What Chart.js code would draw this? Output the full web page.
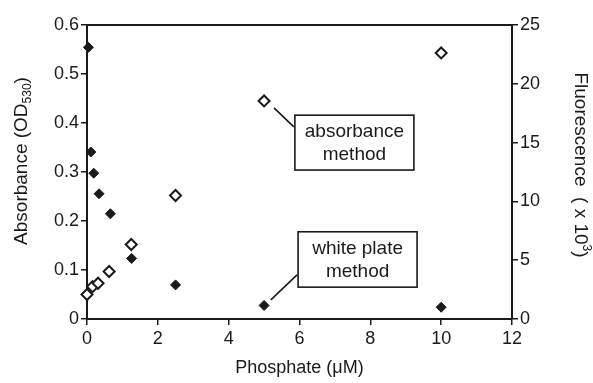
<!DOCTYPE html>
<html>
<head>
<meta charset="utf-8">
<script src="https://cdn.jsdelivr.net/npm/chart.js@4.4.1/dist/chart.umd.min.js"></script>
<style>
  html, body { margin: 0; padding: 0; background: #fff; }
  canvas { display: block; }
</style>
</head>
<body>
<canvas id="chart" width="593" height="383"></canvas>
<script>
// Absorbance method (open diamonds, left axis)
const absPhosphate = [0, 0.156, 0.3125, 0.625, 1.25, 2.5, 5, 10];
const absOD = [0.050, 0.066, 0.073, 0.097, 0.152, 0.252, 0.445, 0.543];

// White plate method (filled diamonds, right axis, x 10^3)
const whitePhosphate = [0.04, 0.11, 0.19, 0.34, 0.66, 1.26, 2.5, 5, 10];
const whiteFluor = [23.1, 14.2, 12.4, 10.65, 8.95, 5.15, 2.9, 1.15, 1.0];

// Axis ranges
const xRange = [0, 12, 2];
const yRange = [0, 0.6, 0.1];
const y2Range = [0, 25, 5];

const FONT = '"Liberation Sans", Arial, sans-serif';
const INK = '#1a1a1a';

// callout boxes, in data units (x, left axis)
const callouts = [
    { lines: ['absorbance', 'method'], box: [5.87, 0.416, 9.23, 0.304], from: [5.28, 0.431], to: [5.84, 0.392] },
    { lines: ['white plate', 'method'], box: [5.96, 0.178, 9.32, 0.065], from: [5.19, 0.039], to: [5.93, 0.090] },
];

const toPts = (xs, ys) => xs.map((x, i) => ({ x: x, y: ys[i] }));

// draws text with a small sub/superscript part, centred at 0,0
function scriptText(ctx, parts, size, small, shift) {
    const w = parts.map((p, i) => {
        ctx.font = (i === 1 ? small : size) + 'px ' + FONT;
        return ctx.measureText(p).width;
    });
    let x = -(w[0] + w[1] + w[2]) / 2;
    parts.forEach((p, i) => {
        ctx.font = (i === 1 ? small : size) + 'px ' + FONT;
        ctx.fillText(p, x, i === 1 ? shift : 0);
        x += w[i];
    });
}

// frame top line, axis titles and callouts
const extras = {
    id: 'extras',
    afterDatasetsDraw(chart) {
        const ctx = chart.ctx;
        const a = chart.chartArea;
        const sx = chart.scales.x, sy = chart.scales.y;
        ctx.save();
        ctx.strokeStyle = INK;
        ctx.lineWidth = 2;
        ctx.beginPath();
        ctx.moveTo(a.left, a.top);
        ctx.lineTo(a.right, a.top);
        ctx.stroke();

        // callouts
        ctx.lineWidth = 1.6;
        ctx.font = '19px ' + FONT;
        ctx.fillStyle = INK;
        ctx.textAlign = 'center';
        ctx.textBaseline = 'middle';
        callouts.forEach(c => {
            const x1 = sx.getPixelForValue(c.box[0]), y1 = sy.getPixelForValue(c.box[1]);
            const x2 = sx.getPixelForValue(c.box[2]), y2 = sy.getPixelForValue(c.box[3]);
            ctx.beginPath();
            ctx.moveTo(sx.getPixelForValue(c.from[0]), sy.getPixelForValue(c.from[1]));
            ctx.lineTo(sx.getPixelForValue(c.to[0]), sy.getPixelForValue(c.to[1]));
            ctx.stroke();
            ctx.fillStyle = '#fff';
            ctx.fillRect(x1, y1, x2 - x1, y2 - y1);
            ctx.strokeRect(x1, y1, x2 - x1, y2 - y1);
            ctx.fillStyle = INK;
            const cx = (x1 + x2) / 2, cy = (y1 + y2) / 2;
            ctx.fillText(c.lines[0], cx, cy - 11);
            ctx.fillText(c.lines[1], cx, cy + 12);
        });

        ctx.textAlign = 'left';
        ctx.textBaseline = 'middle';

        // left title with subscript
        ctx.save();
        ctx.translate(22, 161);
        ctx.rotate(-Math.PI / 2);
        scriptText(ctx, ['Absorbance (OD', '530', ')'], 19, 12, 6);
        ctx.restore();

        // right title with superscript
        ctx.save();
        ctx.translate(580, 165);
        ctx.rotate(Math.PI / 2);
        scriptText(ctx, ['Fluorescence  ( x 10', '3', ')'], 19, 12, -6);
        ctx.restore();

        ctx.restore();
    }
};

const tickFont = { family: FONT, size: 18 };
const axisGrid = { drawOnChartArea: false, drawTicks: true, tickLength: 6, color: INK, lineWidth: 1.5 };
const axisBorder = { display: true, color: INK, width: 2 };

new Chart(document.getElementById('chart'), {
    type: 'scatter',
    data: {
        datasets: [
            {
                label: 'absorbance method',
                data: toPts(absPhosphate, absOD),
                yAxisID: 'y',
                pointStyle: 'rectRot',
                pointRadius: 5.5,
                borderWidth: 2,
                borderColor: INK,
                backgroundColor: '#fff',
                clip: false,
            },
            {
                label: 'white plate method',
                data: toPts(whitePhosphate, whiteFluor),
                yAxisID: 'y2',
                pointStyle: 'rectRot',
                pointRadius: 5,
                borderWidth: 1,
                borderColor: INK,
                backgroundColor: INK,
                clip: false,
            },
        ],
    },
    options: {
        responsive: false,
        animation: false,
        layout: { padding: { top: 25, left: 0, right: 0, bottom: 0 } },
        plugins: { legend: { display: false }, tooltip: { enabled: false } },
        scales: {
            x: {
                type: 'linear',
                min: xRange[0], max: xRange[1],
                ticks: { stepSize: xRange[2], font: tickFont, color: INK, padding: 3 },
                grid: axisGrid,
                border: axisBorder,
                title: { display: true, text: 'Phosphate (\u03bcM)', font: tickFont, color: INK, padding: { top: 1 } },
                afterFit: s => { s.height = 64; },
            },
            y: {
                position: 'left',
                min: yRange[0], max: yRange[1],
                ticks: { stepSize: yRange[2], font: tickFont, color: INK, padding: 2 },
                grid: axisGrid,
                border: axisBorder,
                afterFit: s => { s.width = 87; },
            },
            y2: {
                position: 'right',
                min: y2Range[0], max: y2Range[1],
                ticks: { stepSize: y2Range[2], font: tickFont, color: INK, padding: 2 },
                grid: axisGrid,
                border: axisBorder,
                afterFit: s => { s.width = 81; },
            },
        },
    },
    plugins: [extras],
});
</script>
</body>
</html>
